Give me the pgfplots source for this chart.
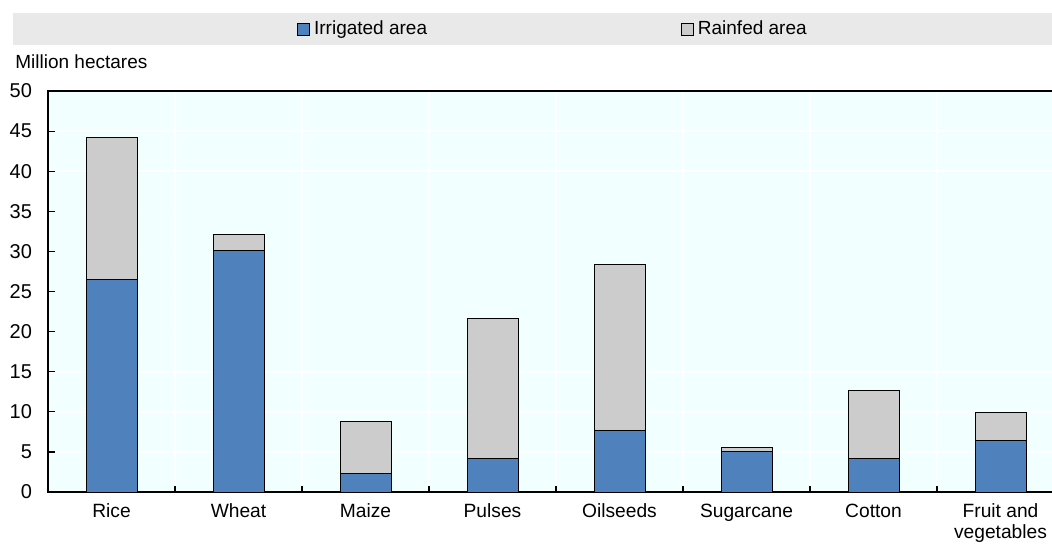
\documentclass[border=0pt]{standalone}
\usepackage{fontspec}
\setmainfont{Liberation Sans}
\usepackage{pgfplots}
\pgfplotsset{compat=1.18}

\definecolor{irrblue}{HTML}{4F81BD}
\definecolor{rainGray}{HTML}{CCCCCC}
\definecolor{plotbg}{HTML}{F2FFFF}
\definecolor{legbg}{HTML}{E9E9E9}

\begin{document}
\begin{tikzpicture}[font=\fontsize{9.5}{10.5}\selectfont]
% picture frame (1px = 0.5pt); the axis runs a little past the right edge
\useasboundingbox (-24pt,-25.5pt) rectangle (502pt,246pt);
\fill[legbg] (-17.5pt,223.5pt) rectangle (502pt,239.5pt);
\begin{axis}[
    at={(0,0)}, anchor=south west,
    scale only axis,
    width=508pt, height=200.5pt,
    clip=false,
    ybar stacked,
    bar width=25.5pt,
    xmin=-0.5, xmax=7.5,
    ymin=0, ymax=50,
    ytick={0,5,...,50},
    xtick={0,...,7},
    xticklabels={Rice,Wheat,Maize,Pulses,Oilseeds,Sugarcane,Cotton,{Fruit and\\vegetables}},
    minor xtick={0.5,1.5,...,6.5},
    major x tick style={draw=none},
    tick align=inside,
    xtick pos=bottom, ytick pos=left,
    major tick length=3.3pt,
    minor tick length=2.8pt,
    tick style={black, line width=0.6pt},
    ymajorgrids, xminorgrids,
    grid style={white, line width=0.8pt},
    minor grid style={white, line width=0.8pt},
    axis background/.style={fill=plotbg},
    axis line style={black, line width=0.8pt},
    /pgf/number format/assume math mode=true,
    tick label style={font=\fontsize{10}{10.5}\selectfont},
    x tick label style={align=center, yshift=-2.5pt, font=\fontsize{9.6}{10.5}\selectfont},
    y tick label style={xshift=-4.5pt},
    legend columns=2,
    legend style={
        at={(rel axis cs:0.245,1.1546)}, anchor=west,
        draw=none, fill=none, inner sep=0pt,
        font=\fontsize{9.5}{10.5}\selectfont,
        /tikz/every even column/.append style={column sep=125pt},
    },
    legend image code/.code={
        \draw[#1, draw=black, line width=0.4pt] (0pt,-3pt) rectangle (6pt,3pt);
    },
]
\addplot[fill=irrblue, draw=black, line width=0.5pt] coordinates {
    (0,26.5) (1,30.17) (2,2.3) (3,4.2) (4,7.69) (5,4.99) (6,4.2) (7,6.48)
};
\addlegendentry{Irrigated area}
\addplot[fill=rainGray, draw=black, line width=0.5pt] coordinates {
    (0,17.7) (1,1.9) (2,6.45) (3,17.46) (4,20.7) (5,0.54) (6,8.4) (7,3.41)
};
\addlegendentry{Rainfed area}
\node[anchor=west, inner sep=0pt] at (rel axis cs:-0.0325,1.0723) {Million hectares};
\end{axis}
\end{tikzpicture}
\end{document}
